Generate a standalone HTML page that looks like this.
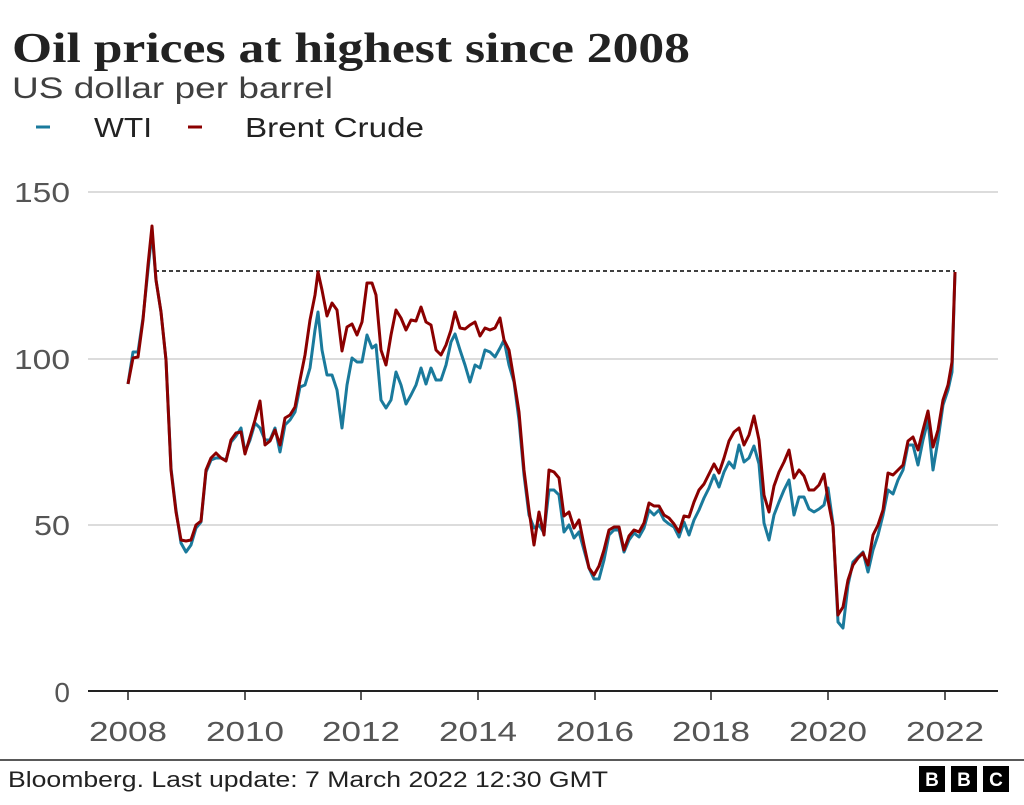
<!DOCTYPE html><html><head><style>
body{margin:0;width:1024px;height:800px;background:#fff;overflow:hidden;font-family:"Liberation Sans",sans-serif}
</style></head><body>
<svg width="1024" height="800" xmlns="http://www.w3.org/2000/svg" font-family="Liberation Sans, sans-serif">
<text x="12" y="62" font-family="Liberation Serif, serif" font-weight="bold" font-size="42" fill="#222" textLength="678" lengthAdjust="spacingAndGlyphs">Oil prices at highest since 2008</text>
<text x="12" y="98" font-size="30" fill="#404040" textLength="321" lengthAdjust="spacingAndGlyphs">US dollar per barrel</text>
<line x1="36" y1="127" x2="50" y2="127" stroke="#1a7a9c" stroke-width="3"/>
<text x="94" y="137" font-size="28" fill="#222" textLength="58" lengthAdjust="spacingAndGlyphs">WTI</text>
<line x1="188" y1="127" x2="202" y2="127" stroke="#8b0000" stroke-width="3"/>
<text x="245" y="137" font-size="28" fill="#222" textLength="179" lengthAdjust="spacingAndGlyphs">Brent Crude</text>
<g stroke="#c8c8c8" stroke-width="1.2">
<line x1="88" y1="192" x2="998" y2="192"/><line x1="88" y1="359" x2="998" y2="359"/><line x1="88" y1="525" x2="998" y2="525"/>
</g>
<g font-size="28" fill="#555" text-anchor="end">
<text x="70" y="202" textLength="56" lengthAdjust="spacingAndGlyphs">150</text><text x="70" y="369" textLength="56" lengthAdjust="spacingAndGlyphs">100</text><text x="70" y="535" textLength="36" lengthAdjust="spacingAndGlyphs">50</text><text x="70" y="702">0</text>
</g>
<line x1="88" y1="691" x2="998" y2="691" stroke="#222" stroke-width="2"/>
<g stroke="#222" stroke-width="1.5">
<line x1="128" y1="691" x2="128" y2="700"/><line x1="245" y1="691" x2="245" y2="700"/><line x1="361" y1="691" x2="361" y2="700"/><line x1="478" y1="691" x2="478" y2="700"/><line x1="595" y1="691" x2="595" y2="700"/><line x1="711" y1="691" x2="711" y2="700"/><line x1="828" y1="691" x2="828" y2="700"/><line x1="945" y1="691" x2="945" y2="700"/>
</g>
<g font-size="28" fill="#555" text-anchor="middle">
<text x="128" y="741" textLength="78" lengthAdjust="spacingAndGlyphs">2008</text><text x="245" y="741" textLength="78" lengthAdjust="spacingAndGlyphs">2010</text><text x="361" y="741" textLength="78" lengthAdjust="spacingAndGlyphs">2012</text><text x="478" y="741" textLength="78" lengthAdjust="spacingAndGlyphs">2014</text><text x="595" y="741" textLength="78" lengthAdjust="spacingAndGlyphs">2016</text><text x="711" y="741" textLength="78" lengthAdjust="spacingAndGlyphs">2018</text><text x="828" y="741" textLength="78" lengthAdjust="spacingAndGlyphs">2020</text><text x="945" y="741" textLength="78" lengthAdjust="spacingAndGlyphs">2022</text>
</g>
<line x1="155" y1="271" x2="955" y2="271" stroke="#000" stroke-width="1.5" stroke-dasharray="4,3"/>
<polyline fill="none" stroke="#1a7a9c" stroke-width="3" stroke-linejoin="round" points="128,384 133,352 138,352 143,318 148,270 152,232 156,280 161,312 166,360 171,468 176,510 181,543 186,552 191,545 196,528 201,522 206,472 211,460 216,458 221,458 226,460 231,442 236,436 241,428 245,452 250,440 255,423 260,428 265,440 270,440 275,428 280,452 285,425 290,420 295,412 300,387 305,385 310,368 315,330 318,312 322,350 327,375 332,375 337,390 342,428 347,385 352,358 357,362 362,362 367,335 372,348 376,345 381,400 386,408 391,400 396,372 401,385 406,404 411,395 416,385 421,368 426,384 431,368 436,380 441,380 446,365 451,342 455,334 460,350 465,365 470,382 475,365 480,368 485,350 490,352 495,357 500,348 504,340 509,365 514,382 519,420 524,475 529,515 534,528 539,525 544,533 549,490 554,490 559,495 564,532 569,525 574,538 579,532 584,550 589,568 594,579 599,579 604,560 609,535 614,530 619,530 624,552 629,540 634,533 639,537 644,528 649,510 654,515 659,510 664,520 669,524 674,527 679,537 684,522 689,535 694,520 699,510 704,498 709,488 714,475 719,487 724,472 729,462 734,468 739,445 744,462 749,458 754,446 759,464 764,523 769,540 774,515 779,502 784,490 789,480 794,515 799,497 804,497 809,509 814,512 819,509 824,505 828,488 833,524 838,622 843,628 848,585 853,562 858,557 863,552 868,572 873,550 878,535 883,515 888,490 893,494 898,480 903,470 908,445 913,445 918,465 923,440 928,420 933,470 938,440 943,405 948,390 952,372 955,272"/>
<polyline fill="none" stroke="#8b0000" stroke-width="3" stroke-linejoin="round" points="128,384 133,358 138,357 143,320 148,265 152,226 156,280 161,312 166,360 171,470 176,512 181,540 186,541 191,540 196,525 201,521 206,470 211,458 216,453 221,458 226,461 231,440 236,433 241,432 245,454 250,437 255,420 260,401 265,445 270,441 275,430 280,445 285,418 290,415 295,407 300,380 305,355 310,320 315,295 318,272 322,290 327,316 332,303 337,310 342,351 347,327 352,324 357,335 362,322 367,283 372,283 376,295 381,350 386,365 391,335 396,310 401,318 406,330 411,320 416,321 421,307 426,322 431,325 436,350 441,355 446,345 451,330 455,312 460,328 465,329 470,325 475,322 480,336 485,328 490,330 495,328 500,318 504,340 509,350 514,380 519,412 524,470 529,510 534,545 539,512 544,535 549,470 554,472 559,478 564,516 569,512 574,528 579,520 584,545 589,568 594,575 599,566 604,550 609,530 614,527 619,527 624,550 629,536 634,530 639,532 644,523 649,503 654,506 659,506 664,515 669,518 674,524 679,532 684,516 689,517 694,502 699,490 704,484 709,474 714,464 719,473 724,458 729,441 734,432 739,428 744,445 749,435 754,416 759,440 764,495 769,512 774,486 779,472 784,462 789,450 794,478 799,470 804,476 809,490 814,490 819,485 824,474 828,500 833,526 838,615 843,607 848,580 853,565 858,558 863,553 868,565 873,535 878,525 883,510 888,473 893,475 898,470 903,465 908,441 913,437 918,450 923,430 928,411 933,447 938,430 943,400 948,385 952,362 955,272"/>
<line x1="0" y1="760" x2="1024" y2="760" stroke="#222" stroke-width="1.5"/>
<text x="8" y="787" font-size="22" fill="#222" textLength="600" lengthAdjust="spacingAndGlyphs">Bloomberg. Last update: 7 March 2022 12:30 GMT</text>
<g fill="#000"><rect x="919" y="766" width="26" height="26"/><rect x="951" y="766" width="26" height="26"/><rect x="983" y="766" width="26" height="26"/></g>
<g fill="#fff" font-weight="bold" font-size="19" text-anchor="middle"><text x="932" y="786">B</text><text x="964" y="786">B</text><text x="996" y="786">C</text></g>
</svg>
</body></html>
